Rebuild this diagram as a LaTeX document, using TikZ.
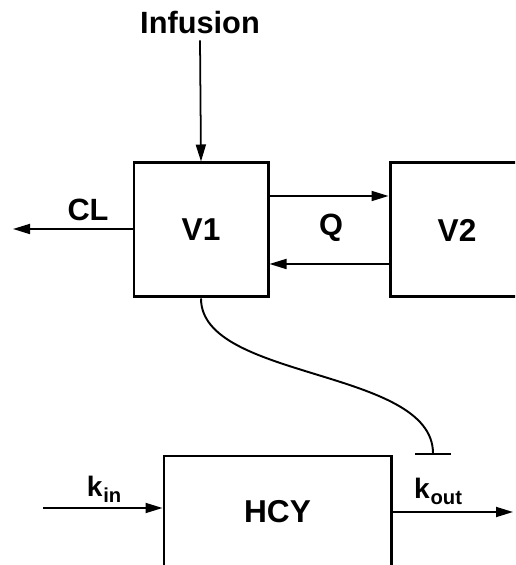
\documentclass[tikz,border=0pt]{standalone}
\usepackage{fontspec}
\setmainfont{Liberation Sans}
\usetikzlibrary{arrows.meta}

\tikzset{
  compbox/.style={draw,line width=1.7pt,inner sep=0pt,font=\fontsize{18}{18}\selectfont\bfseries},
  flow/.style={line width=1pt,-{Triangle[length=0.34cm,width=0.2cm]}},
  lbl/.style={font=\fontsize{17.5}{17.5}\selectfont\bfseries},
  ratelbl/.style={font=\fontsize{16}{16}\selectfont\bfseries}
}
\newcommand{\rateK}[1]{k\kern0.5pt{\fontsize{11.5}{11.5}\selectfont\raisebox{-0.55ex}{#1}}}

\begin{document}
\begin{tikzpicture}
\useasboundingbox (0,0) rectangle (10.3,11.3);
\clip (0,0) rectangle (10.3,11.3);
% compartments
\node[compbox,minimum width=2.68cm,minimum height=2.68cm] (v1) at (4.02,6.70) {V1};
\node[compbox,minimum width=2.68cm,minimum height=2.68cm] (v2) at (9.14,6.70) {V2};
\node[compbox,minimum width=4.54cm,minimum height=2.24cm] (hcy) at (5.55,1.06) {HCY};
% labels
\node[lbl] (infusion) at (4.0,10.84) {Infusion};
\node[lbl] (cl) at (1.76,7.10) {CL};
\node[lbl] (q) at (6.62,6.74) {Q};
\node[ratelbl] (kin) at (2.08,1.52) {\rateK{in}};
\node[ratelbl] (kout) at (8.76,1.48) {\rateK{out}};
% free ends
\coordinate (clend) at (0.26,6.72);
\coordinate (kinstart) at (0.86,1.14);
\coordinate (koutend) at (10.26,1.06);
\coordinate (barend) at (8.66,2.20);
% connectors
\draw[flow] (infusion.south) -- (v1.north);
\draw[flow] ([yshift=0.68cm]v1.east) -- ([yshift=0.68cm]v2.west);
\draw[flow] ([yshift=-0.68cm]v2.west) -- ([yshift=-0.68cm]v1.east);
\draw[flow] (v1.west |- clend) -- (clend);
\draw[flow] (kinstart) -- (hcy.west |- kinstart);
\draw[flow] (hcy.east) -- (koutend);
\draw[line width=1.1pt,-{Bar[width=0.72cm,line width=1.2pt]}] (v1.south)
  .. controls +(0,-1.64) and +(0,1.74) .. (barend);
\end{tikzpicture}
\end{document}
